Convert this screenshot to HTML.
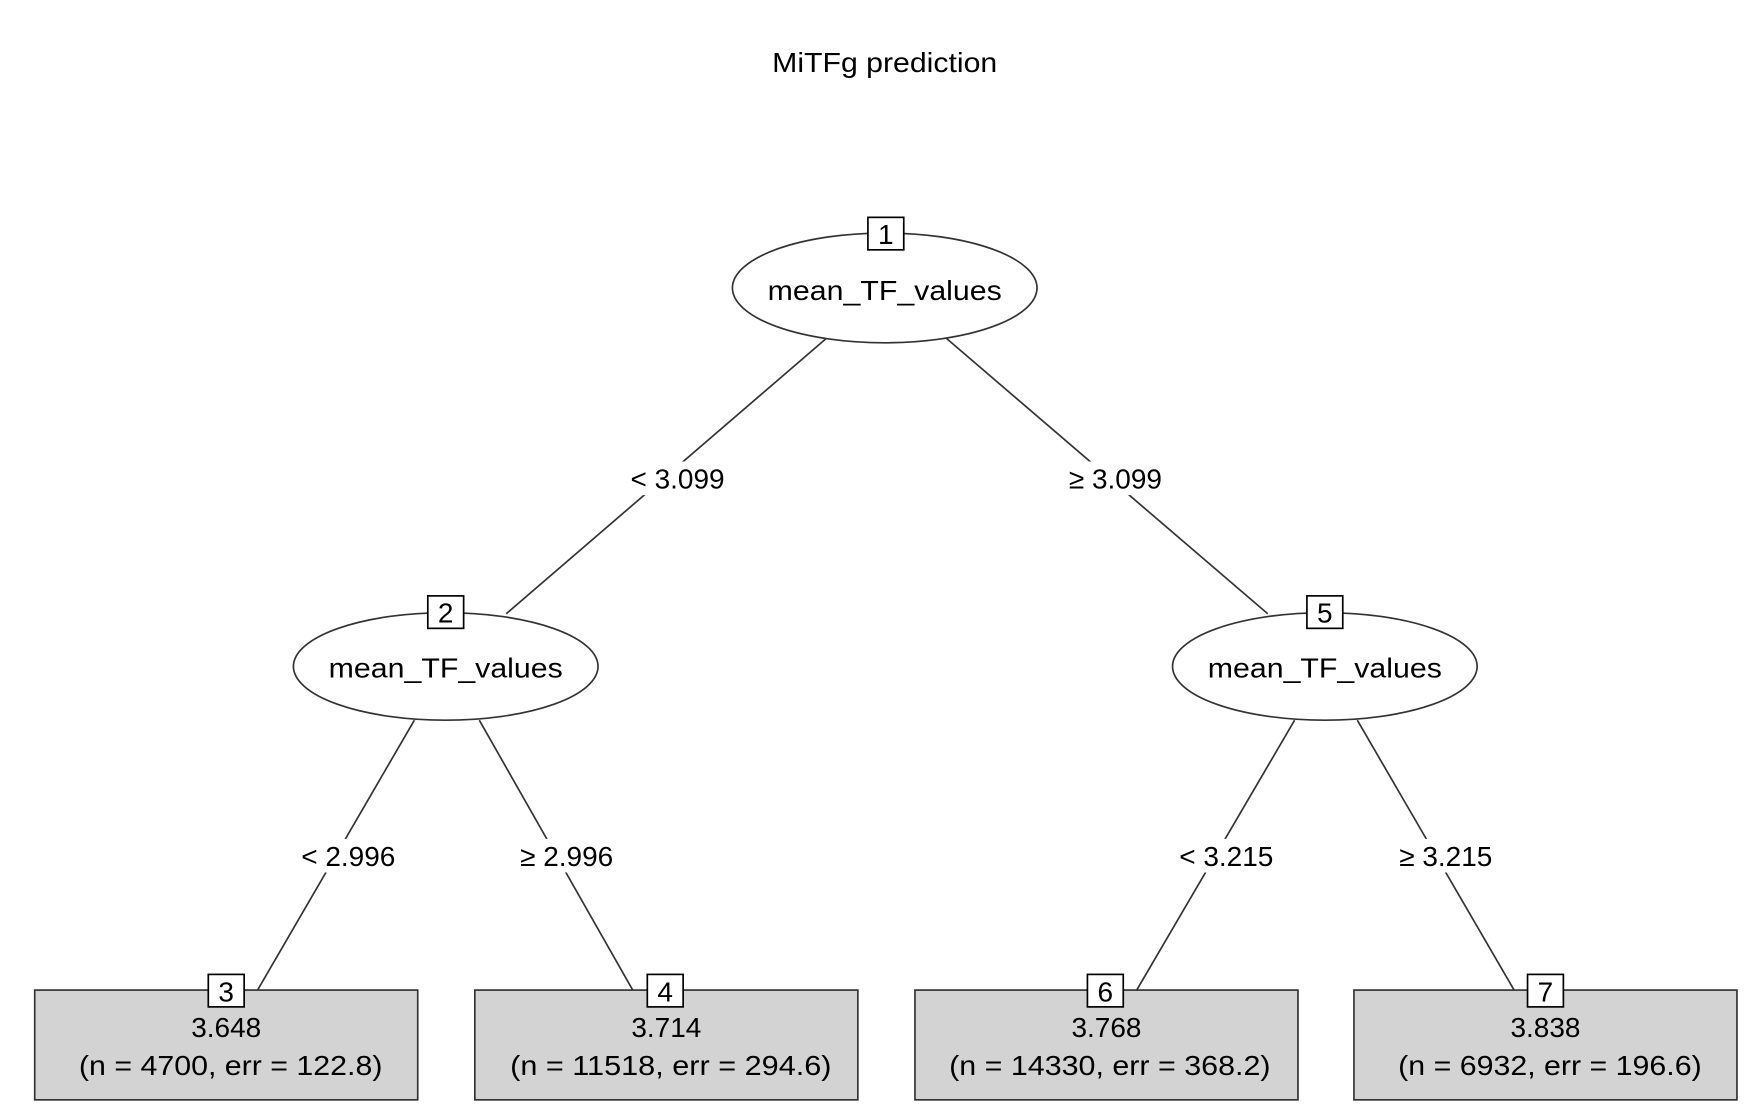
<!DOCTYPE html>
<html><head><meta charset="utf-8"><style>html,body{margin:0;padding:0;background:#fff}svg{display:block}</style></head>
<body>
<svg width="1756" height="1110" viewBox="0 0 1568 991" xmlns="http://www.w3.org/2000/svg" font-family="'Liberation Sans', Arial, sans-serif" fill="#000">
<g stroke="#333" stroke-width="1.5" fill="none">
<line x1="738" y1="302" x2="452" y2="548"/>
<line x1="845" y1="302" x2="1132" y2="548"/>
<line x1="370" y1="643" x2="230" y2="884"/>
<line x1="428" y1="643" x2="565" y2="884"/>
<line x1="1156" y1="643" x2="1015" y2="884"/>
<line x1="1212" y1="643" x2="1352" y2="884"/>
</g>
<g fill="#fff">
<rect x="555" y="412" width="100" height="30"/>
<rect x="945" y="412" width="100" height="30"/>
<rect x="260" y="749" width="100" height="30"/>
<rect x="455" y="749" width="100" height="30"/>
<rect x="1045" y="749" width="100" height="30"/>
<rect x="1240" y="749" width="100" height="30"/>
</g>
<text x="790" y="64" font-size="25" text-anchor="middle" textLength="201" lengthAdjust="spacingAndGlyphs">MiTFg prediction</text>
<g font-size="25" text-anchor="middle">
<text x="605" y="436">&lt; 3.099</text>
<text x="996" y="436">≥ 3.099</text>
<text x="311" y="773">&lt; 2.996</text>
<text x="506" y="773">≥ 2.996</text>
<text x="1095" y="773">&lt; 3.215</text>
<text x="1291" y="773">≥ 3.215</text>
</g>
<g stroke="#333" stroke-width="1.5" fill="#fff">
<ellipse cx="790" cy="257" rx="136" ry="49"/>
<ellipse cx="398" cy="595" rx="136" ry="48"/>
<ellipse cx="1183" cy="595" rx="136" ry="48"/>
</g>
<g stroke="#333" stroke-width="1.5" fill="#d3d3d3">
<rect x="31" y="884" width="342" height="98"/>
<rect x="424" y="884" width="342" height="98"/>
<rect x="817" y="884" width="342" height="98"/>
<rect x="1209" y="884" width="342" height="98"/>
</g>
<g stroke="#000" stroke-width="1.5" fill="#fff">
<rect x="775" y="194" width="32" height="29"/>
<rect x="382" y="532" width="32" height="29"/>
<rect x="1167" y="532" width="32" height="29"/>
<rect x="186" y="870" width="32" height="29"/>
<rect x="578" y="870" width="32" height="29"/>
<rect x="971" y="870" width="32" height="29"/>
<rect x="1364" y="870" width="32" height="29"/>
</g>
<g font-size="25" text-anchor="middle">
<text x="791" y="218">1</text>
<text x="398" y="556">2</text>
<text x="1183" y="556">5</text>
<text x="202" y="894">3</text>
<text x="594" y="894">4</text>
<text x="987" y="894">6</text>
<text x="1380" y="894">7</text>
<text x="790" y="268" textLength="209" lengthAdjust="spacingAndGlyphs">mean_TF_values</text>
<text x="398" y="605" textLength="209" lengthAdjust="spacingAndGlyphs">mean_TF_values</text>
<text x="1183" y="605" textLength="209" lengthAdjust="spacingAndGlyphs">mean_TF_values</text>
<text x="202" y="926">3.648</text>
<text x="595" y="926">3.714</text>
<text x="988" y="926">3.768</text>
<text x="1380" y="926">3.838</text>
<text x="206" y="960" textLength="271" lengthAdjust="spacingAndGlyphs">(n = 4700, err = 122.8)</text>
<text x="599" y="960" textLength="287" lengthAdjust="spacingAndGlyphs">(n = 11518, err = 294.6)</text>
<text x="991" y="960" textLength="287" lengthAdjust="spacingAndGlyphs">(n = 14330, err = 368.2)</text>
<text x="1384" y="960" textLength="271" lengthAdjust="spacingAndGlyphs">(n = 6932, err = 196.6)</text>
</g>
</svg>
</body></html>
